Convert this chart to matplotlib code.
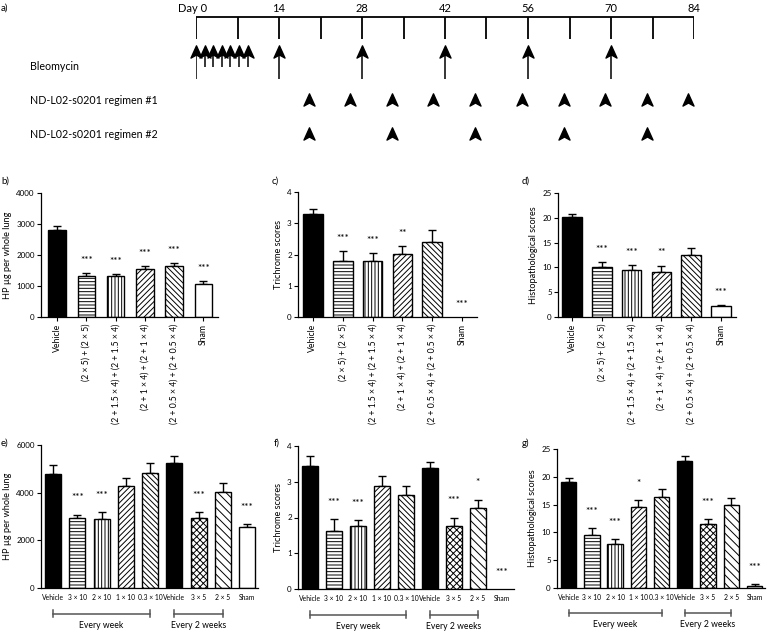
import matplotlib
matplotlib.use('Agg')
import matplotlib.pyplot as plt
import numpy as np
from matplotlib.path import Path
import matplotlib.transforms as mtransforms

plt.rcParams['font.family'] = ['Lato', 'DejaVu Sans']
plt.rcParams['hatch.linewidth'] = 0.7
plt.rcParams['axes.linewidth'] = 0.9

W, H, DPI = 768, 631, 100

# ---------------- data ----------------
timeline_ticks = list(range(0, 85, 7))
timeline_label_days = [0, 14, 28, 42, 56, 70, 84]
timeline_label_text = ['Day 0', '14', '28', '42', '56', '70', '84']
bleo_days_initial = [0, 1.45, 2.9, 4.35, 5.8, 7.25, 8.7]
bleo_days_boost = [14, 28, 42, 56, 70]
reg1_days = [19, 26, 33, 40, 47, 55, 62, 69, 76, 83]
reg2_days = [19, 33, 47, 62, 76]
row_labels = ['Bleomycin', 'ND-L02-s0201 regimen #1', 'ND-L02-s0201 regimen #2']

top_cats = ['Vehicle', '(2 × 5) + (2 × 5)', '(2 + 1.5 × 4) + (2 + 1.5 × 4)',
            '(2 + 1 × 4) + (2 + 1 × 4)', '(2 + 0.5 × 4) + (2 + 0.5 × 4)', 'Sham']
b_vals = [2800, 1320, 1310, 1550, 1650, 1060]
b_err = [150, 90, 80, 110, 90, 100]
b_sig = ['', '***', '***', '***', '***', '***']
c_vals = [3.30, 1.80, 1.80, 2.02, 2.40, 0.0]
c_err = [0.17, 0.30, 0.25, 0.25, 0.38, 0.0]
c_sig = ['', '***', '***', '**', '', '***']
d_vals = [20.2, 10.0, 9.4, 9.0, 12.4, 2.2]
d_err = [0.5, 1.0, 1.0, 1.3, 1.6, 0.2]
d_sig = ['', '***', '***', '**', '', '***']

bottom_cats = ['Vehicle', '3 × 10', '2 × 10', '1 × 10', '0.3 × 10', 'Vehicle', '3 × 5', '2 × 5', 'Sham']
e_vals = [4780, 2920, 2900, 4270, 4830, 5230, 2950, 4020, 2550]
e_err = [370, 160, 270, 330, 420, 300, 220, 400, 120]
e_sig = ['', '***', '***', '', '', '', '***', '', '***']
f_vals = [3.44, 1.63, 1.75, 2.87, 2.62, 3.38, 1.76, 2.26, 0.0]
f_err = [0.28, 0.32, 0.17, 0.29, 0.27, 0.17, 0.24, 0.24, 0.0]
f_sig = ['', '***', '***', '', '', '', '***', '*', '***']
g_vals = [19.1, 9.45, 7.9, 14.55, 16.45, 22.9, 11.6, 15.0, 0.4]
g_err = [0.75, 1.35, 0.85, 1.3, 1.4, 0.9, 0.75, 1.25, 0.3]
g_sig = ['', '***', '***', '*', '', '', '***', '', '***']

groups = [('Every week', 0, 4), ('Every 2 weeks', 5, 7)]

# ---------------- styles ----------------
top_styles = [('black', None), ('white', '-----'), ('white', '|||||'),
              ('white', '//////'), ('white', '\\\\\\\\\\\\'), ('white', None)]
bottom_styles = [('black', None), ('white', '-----'), ('white', '|||||'),
                 ('white', '//////'), ('white', '\\\\\\\\\\\\'), ('black', None),
                 ('white', 'xxxxx'), ('white', '\\\\\\\\'), ('white', None)]

fig = plt.figure(figsize=(W / DPI, H / DPI), dpi=DPI)


def px_rect(l, t, r, b):
    return [l / W, 1 - b / H, (r - l) / W, (b - t) / H]

# ---------------- panel a: timeline ----------------
axa = fig.add_axes(px_rect(196, 0, 694, 175))
axa.set_xlim(0, 84)
axa.set_ylim(175, 0)
axa.axis('off')

axa.plot([0, 84], [17, 17], color='black', lw=1.3, solid_capstyle='butt')
axa.vlines(timeline_ticks, 17, 39, color='black', lw=1.3)
for d, t in zip(timeline_label_days, timeline_label_text):
    if d == 0:
        tr = mtransforms.offset_copy(axa.transData, fig=fig, x=8, y=0, units='points')
        axa.text(d, 9, t, ha='right', va='center', fontsize=8, transform=tr)
    else:
        axa.text(d, 9, t, ha='center', va='center', fontsize=8)

head = Path([(0, 1), (0.72, -0.6), (0, -0.2), (-0.72, -0.6), (0, 1)],
            [Path.MOVETO, Path.LINETO, Path.LINETO, Path.LINETO, Path.CLOSEPOLY])

# bleomycin arrows
axa.vlines(bleo_days_initial[:1], 52, 79, color='black', lw=1.1)
axa.vlines(bleo_days_initial[1:], 52, 67, color='black', lw=1.1)
axa.vlines(bleo_days_boost, 52, 79, color='black', lw=1.1)
axa.plot(bleo_days_initial + bleo_days_boost, [52.5] * (len(bleo_days_initial) + len(bleo_days_boost)),
         linestyle='none', marker=head, ms=11, color='black', clip_on=False)
axa.plot(reg1_days, [101] * len(reg1_days), linestyle='none', marker=head, ms=11,
         color='black', clip_on=False)
axa.plot(reg2_days, [135] * len(reg2_days), linestyle='none', marker=head, ms=11,
         color='black', clip_on=False)

lab_tr = mtransforms.blended_transform_factory(fig.transFigure, axa.transData)
for lab, yy in zip(row_labels, [67, 101, 134]):
    axa.text(30 / W, yy, lab, ha='left', va='center', fontsize=7.7, transform=lab_tr)

# ---------------- bar panels ----------------

def bar_panel(rect, cats, vals, err, sig, styles, ylim, yticks, ylabel, rotate,
              star_off, width, xlim, groups_=None):
    ax = fig.add_axes(px_rect(*rect))
    x = np.arange(len(cats))
    for i, (v, (fc, hatch)) in enumerate(zip(vals, styles)):
        if v > 0:
            ax.bar(x[i], v, width=width, color=fc, edgecolor='black', hatch=hatch,
                   linewidth=1.0, zorder=2)
    e_idx = [i for i in range(len(err)) if err[i] > 0]
    ax.errorbar(x[e_idx], np.array(vals)[e_idx],
                yerr=[np.zeros(len(e_idx)), np.array(err)[e_idx]], fmt='none', ecolor='black',
                elinewidth=1.0, capsize=3.2, capthick=1.0, zorder=1)
    tr = mtransforms.offset_copy(ax.transData, fig=fig, x=0, y=-1.4, units='points')
    for i, s in enumerate(sig):
        if s:
            ax.text(x[i], vals[i] + err[i] + star_off * ylim[1], s, ha='center', va='center',
                    fontsize=7.2, transform=tr)
    ax.set_xlim(*xlim)
    ax.set_ylim(*ylim)
    ax.set_yticks(yticks)
    ax.tick_params(axis='y', labelsize=5.8, length=3, width=0.8, pad=1.5)
    ax.set_xticks(x)
    if rotate:
        ax.set_xticklabels(cats, rotation=90, fontsize=6.2)
        ax.tick_params(axis='x', length=3, width=0.8, pad=2)
    else:
        ax.set_xticklabels(cats, fontsize=4.9)
        ax.tick_params(axis='x', length=0, pad=4)
    ax.set_ylabel(ylabel, fontsize=6.6, labelpad=3)
    for sp in ['top', 'right']:
        ax.spines[sp].set_visible(False)
    if groups_:
        btr = mtransforms.blended_transform_factory(ax.transData, ax.transAxes)
        for name, g0, g1 in groups_:
            yb = -0.18
            ax.plot([g0, g1], [yb, yb], color='#555555', lw=1.1, transform=btr, clip_on=False)
            ax.plot([g0, g0], [yb - 0.025, yb + 0.025], color='#555555', lw=1.1,
                    transform=btr, clip_on=False)
            ax.plot([g1, g1], [yb - 0.025, yb + 0.025], color='#555555', lw=1.1,
                    transform=btr, clip_on=False)
            ax.text((g0 + g1) / 2, -0.265, name, ha='center', va='center', fontsize=6.2,
                    transform=btr)
    return ax

bar_panel((41, 193, 218, 317), top_cats, b_vals, b_err, b_sig, top_styles,
          (0, 4000), [0, 1000, 2000, 3000, 4000], 'HP µg per whole lung', True,
          0.115, 0.6, (-0.55, 5.5))
bar_panel((298, 192, 477, 317), top_cats, c_vals, c_err, c_sig, top_styles,
          (0, 4), [0, 1, 2, 3, 4], 'Trichrome scores', True,
          0.115, 0.66, (-0.5, 5.5))
bar_panel((558, 193, 736, 317), top_cats, d_vals, d_err, d_sig, top_styles,
          (0, 25), [0, 5, 10, 15, 20, 25], 'Histopathological scores', True,
          0.12, 0.66, (-0.47, 5.5))
bar_panel((41, 445, 258, 588), bottom_cats, e_vals, e_err, e_sig, bottom_styles,
          (0, 6000), [0, 2000, 4000, 6000], 'HP µg per whole lung', False,
          0.135, 0.66, (-0.5, 8.45), groups)
bar_panel((298, 446, 514, 589), bottom_cats, f_vals, f_err, f_sig, bottom_styles,
          (0, 4), [0, 1, 2, 3, 4], 'Trichrome scores', False,
          0.13, 0.66, (-0.5, 8.5), groups)
bar_panel((557, 449, 765, 588), bottom_cats, g_vals, g_err, g_sig, bottom_styles,
          (0, 25), [0, 5, 10, 15, 20, 25], 'Histopathological scores', False,
          0.135, 0.66, (-0.5, 8.45), groups)

# panel letters
for lab, xp, yp in [('a)', 1, 8), ('b)', 1, 181), ('c)', 272, 181), ('d)', 522, 181),
                    ('e)', 1, 443), ('f)', 274, 443), ('g)', 522, 443)]:
    fig.text(xp / W, 1 - yp / H, lab, ha='left', va='center', fontsize=7)

fig.savefig('out.png', dpi=DPI)
